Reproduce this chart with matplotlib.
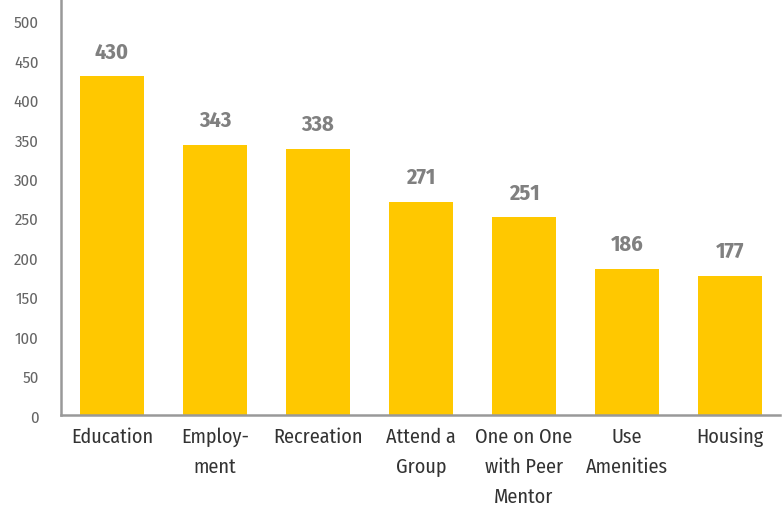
import matplotlib

matplotlib.use("Agg")
import matplotlib.pyplot as plt

plt.rcParams["font.family"] = ["Fira Sans Condensed", "DejaVu Sans"]

CATEGORIES = [
    "Education",
    "Employ-\nment",
    "Recreation",
    "Attend a\nGroup",
    "One on One\nwith Peer\nMentor",
    "Use\nAmenities",
    "Housing",
]
VALUES = [430, 343, 338, 271, 251, 186, 177]
Y_TICKS = [0, 50, 100, 150, 200, 250, 300, 350, 400, 450, 500]

BAR_COLOR = "#FFC800"
SPINE_COLOR = "#999999"


def main() -> None:
    fig = plt.figure(figsize=(7.83, 5.10), dpi=100)
    ax = fig.add_axes([0.078, 0.184, 0.918, 0.816])
    xs = list(range(len(CATEGORIES)))
    ax.bar(xs, VALUES, width=0.62, color=BAR_COLOR)
    for x, v in zip(xs, VALUES):
        ax.annotate(
            str(v), (x, v), xytext=(0, 10), textcoords="offset points",
            ha="center", va="bottom", fontsize=16, fontweight="bold", color="#808080",
        )
    ax.set_xlim(-0.495, 6.485)
    ax.set_ylim(0, 528)
    ax.set_yticks(Y_TICKS)
    ax.set_xticks(xs)
    ax.set_xticklabels(CATEGORIES, fontsize=14.5, color="#333333", linespacing=1.7, va="top")
    ax.tick_params(axis="y", length=0, pad=16, labelsize=12, labelcolor="#666666")
    ax.tick_params(axis="x", length=0, pad=8)
    for side in ("top", "right"):
        ax.spines[side].set_visible(False)
    for side in ("left", "bottom"):
        ax.spines[side].set_color(SPINE_COLOR)
        ax.spines[side].set_linewidth(1.8)
    fig.savefig("out.png", dpi=100)


if __name__ == "__main__":
    main()
